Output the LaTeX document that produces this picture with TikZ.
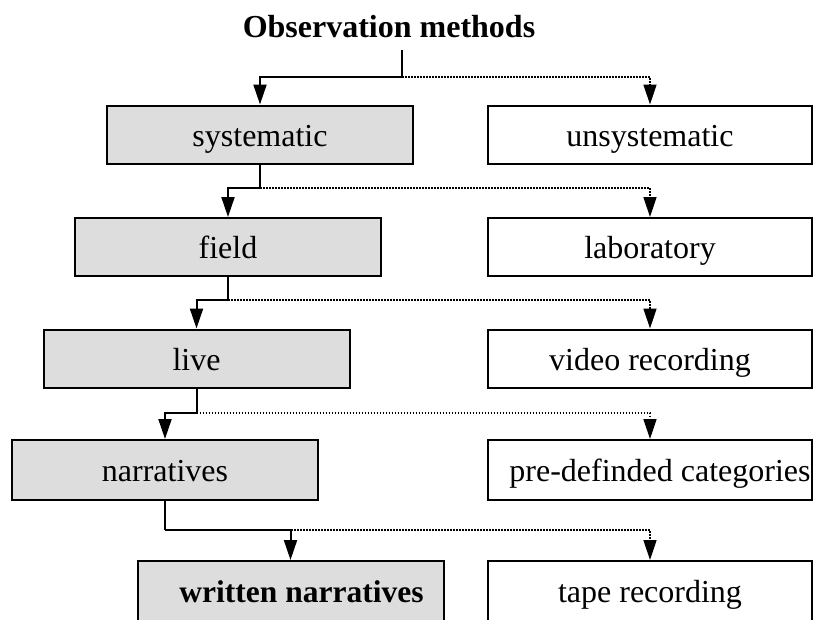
\documentclass[tikz,border=0pt]{standalone}
\usepackage{fontspec}
\setmainfont{Liberation Serif}
\usetikzlibrary{arrows.meta}
\definecolor{boxgray}{RGB}{221,221,221}
\begin{document}
\begin{tikzpicture}[x=1pt,y=-1pt,
  box/.style={draw=black, line width=2pt, minimum height=58pt, inner sep=0pt,
              text height=25pt, text depth=2pt,
              font=\fontsize{32}{36}\selectfont},
  leftbox/.style={box, fill=boxgray, minimum width=306pt},
  rightbox/.style={box, fill=white, minimum width=324pt},
  stub/.style={line width=2pt},
  solidcon/.style={line width=2pt, -{Triangle[length=20pt,width=13pt]}},
  dotcon/.style={line width=1.5pt, dash pattern=on 1.5pt off 1.5pt,
                 -{Triangle[length=20pt,width=13pt]}},
]
\useasboundingbox (0,0) rectangle (814,619);
\clip (0,0) rectangle (814,619);

% title
\node[font=\bfseries\fontsize{32}{38}\selectfont, anchor=base, inner sep=0pt]
  (title) at (389,37) {Observation methods};

% left column
\node[leftbox] (sys)     at (260,134.5) {systematic};
\node[leftbox] (field)   at (228,247)   {field};
\node[leftbox] (live)    at (196.5,358.5) {live};
\node[leftbox, minimum height=60pt] (narr) at (165,470) {narratives};
\node[leftbox, minimum height=60pt, font=\bfseries\fontsize{31.5}{36}\selectfont]
  (written) at (290.5,591) {\hspace*{22pt}written narratives};

% right column
\node[rightbox] (uns)   at (650,134.5) {unsystematic};
\node[rightbox] (lab)   at (650,247)   {laboratory};
\node[rightbox] (video) at (650,358.5) {video recording};
\node[rightbox, minimum height=60pt] (pre) at (650,470) {\hspace*{20pt}pre-definded categories};
\node[rightbox, minimum height=60pt] (tape) at (650,591) {tape recording};

% connectors
\coordinate (t0) at (402,50);
\coordinate (j0) at (402,77);
\coordinate (j1) at (sys.south |- 0,188);
\coordinate (j2) at (field.south |- 0,300);
\coordinate (j3) at (live.south |- 0,413);
\coordinate (j4) at (narr.south |- 0,530);

\draw[dotcon] (j0) -| (uns.north);
\draw[stub] (t0) -- (j0);
\draw[solidcon] (j0) -| (sys.north);

\draw[dotcon] (j1) -| (lab.north);
\draw[stub] (sys.south) -- (j1);
\draw[solidcon] (j1) -| (field.north);

\draw[dotcon] (j2) -| (video.north);
\draw[stub] (field.south) -- (j2);
\draw[solidcon] (j2) -| (live.north);

\draw[dotcon] (j3) -| (pre.north);
\draw[stub] (live.south) -- (j3);
\draw[solidcon] (j3) -| (narr.north);

\draw[dotcon] (j4) -| (tape.north);
\draw[stub] (narr.south) -- (j4);
\draw[solidcon] (j4) -| (written.north);
\end{tikzpicture}
\end{document}
